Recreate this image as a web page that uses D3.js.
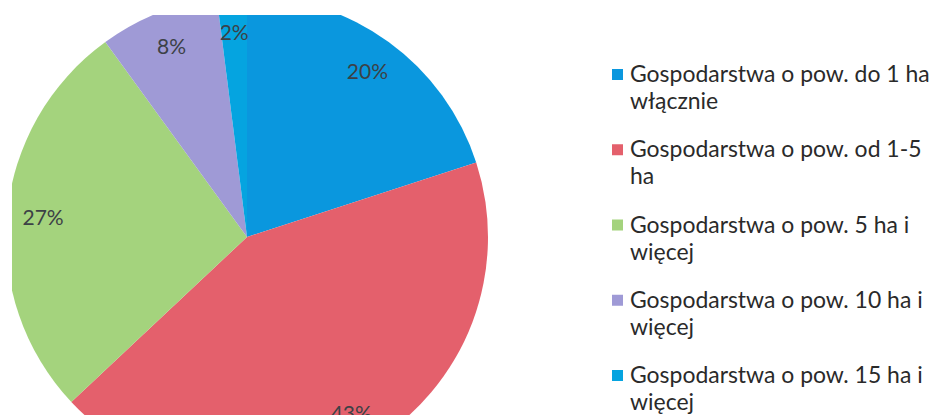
<!DOCTYPE html>
<html>
<head>
<meta charset="utf-8">
<script src="https://cdn.jsdelivr.net/npm/d3@7"></script>
<style>
  html, body { margin: 0; padding: 0; background: #fff; }
  svg { display: block; }
</style>
</head>
<body>
<svg id="chart" width="940" height="415"></svg>
<script>
// ---- data ----
const categories = [
  "Gospodarstwa o pow. do 1 ha\nwłącznie",
  "Gospodarstwa o pow. od 1-5\nha",
  "Gospodarstwa o pow. 5 ha i\nwięcej",
  "Gospodarstwa o pow. 10 ha i\nwięcej",
  "Gospodarstwa o pow. 15 ha i\nwięcej"
];
const values = [20, 43, 27, 8, 2];
const valueLabels = ["20%", "43%", "27%", "8%", "2%"];
const colors = ["#0a97de", "#e4606c", "#a4d37d", "#9f9ad6", "#05a4e0"];

// ---- layout ----
const W = 940, H = 415;
const cx = 247, cy = 237, R = 241;
const clip = { x: 12, y: 15, w: 560, h: 415 };
const font = "Lato, 'Open Sans', sans-serif";
const textColor = "#3c4146";

const svg = d3.select("#chart");

svg.append("defs").append("clipPath").attr("id", "plotClip")
  .append("rect").attr("x", clip.x).attr("y", clip.y).attr("width", clip.w).attr("height", clip.h);

const pie = d3.pie().sort(null).value(d => d)(values);
const arc = d3.arc().innerRadius(0).outerRadius(R);
const labelArc = d3.arc().innerRadius(R * 0.85).outerRadius(R * 0.85);

const g = svg.append("g").attr("clip-path", "url(#plotClip)")
  .append("g").attr("transform", `translate(${cx},${cy})`);

g.selectAll("path").data(pie).join("path")
  .attr("d", arc)
  .attr("fill", (d, i) => colors[i]);

g.selectAll("text").data(pie).join("text")
  .attr("transform", d => {
    const [x, y] = labelArc.centroid(d);
    return `translate(${x},${y})`;
  })
  .attr("text-anchor", "middle")
  .attr("dy", "0.35em")
  .attr("font-family", font)
  .attr("font-size", 21)
  .attr("fill", textColor)
  .text((d, i) => valueLabels[i]);

// ---- legend ----
const legendX = 612, textX = 630, lineH = 27;
const legendY = d3.scaleLinear().domain([0, categories.length - 1]).range([82, 383]);

// fit font size so the first legend line is ~300px wide
const probe = svg.append("text").attr("font-family", font).attr("font-size", 20)
  .text(categories[0].split("\n")[0]);
const probeW = probe.node().getComputedTextLength();
probe.remove();
const legendFont = 20 * 300 / probeW;

const items = svg.append("g").selectAll("g").data(categories).join("g")
  .attr("transform", (d, i) => `translate(0,${legendY(i)})`);

items.append("rect")
  .attr("x", legendX).attr("y", -13)
  .attr("width", 11).attr("height", 11)
  .attr("fill", (d, i) => colors[i]);

items.append("text")
  .attr("font-family", font)
  .attr("font-size", legendFont)
  .attr("fill", "#2a2a2a")
  .selectAll("tspan").data(d => d.split("\n")).join("tspan")
  .attr("x", textX)
  .attr("dy", (d, j) => j === 0 ? 0 : lineH)
  .text(d => d);
</script>
</body>
</html>
